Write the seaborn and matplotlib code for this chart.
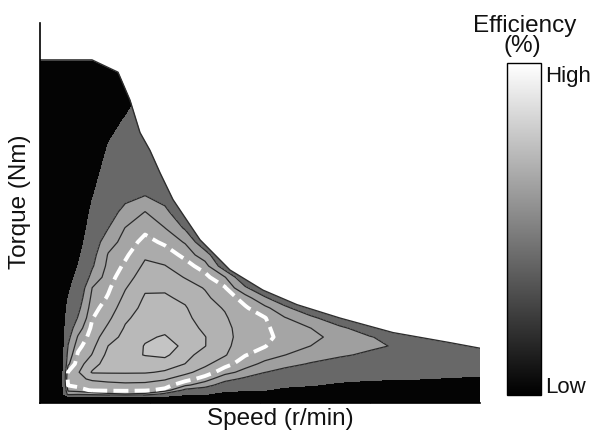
import numpy as np
import matplotlib
matplotlib.use("Agg")
import matplotlib.pyplot as plt
import seaborn as sns
from matplotlib.colors import Normalize
from matplotlib.cm import ScalarMappable

sns.set_theme(style="ticks")
plt.rcParams["font.family"] = ["Liberation Sans", "DejaVu Sans"]

# ---- data ----
speed = [0, 190, 255, 345, 475, 620, 775, 955, 1135, 1320, 1500,
         1680, 1865, 2045, 2225, 2455, 2725, 3000, 3275, 3635, 4000]
torque = [0, 4.5, 8, 11.5, 16, 21.5, 27.5, 35, 43, 51, 59, 67, 76, 85,
          94, 103, 112.5, 122.5, 132.5, 144, 156.5, 171, 186, 208.5,
          231, 253, 275.5, 307]

# efficiency (%) estimated at each speed (one list per speed, torque ascending)
efficiency_by_speed = [
    [60] * 28,
    [60] + [76] * 27,
    [60, 76, 86.5, 88.5, 90.1, 90.8, 90.1, 87.5, 86.3, 85.1, 84.1, 83.2, 82.1, 81.1,
     80.0, 79.2, 78.3, 77.3, 76.4, 75.9, 75.8, 75.7, 75.6, 75.4, 75.2, 75.0, 74.5, 74.0],
    [60, 76, 86, 89.1, 90.6, 91.6, 91.8, 91.1, 90.3, 89.4, 88.25, 86.8, 85.2, 84.1,
     83.1, 82.2, 81.1, 80.05, 79.1, 78.0, 77.0, 76.8, 76.6, 76.4, 76.2, 76.0, 75.5, 75.0],
    [60, 77, 86.5, 90.3, 91.2, 92.3, 94.2, 93.25, 92.1, 91.5, 91.0, 90.5, 89.9, 89.3,
     88.7, 88.05, 86.1, 84.65, 83.9, 83.0, 82.0, 80.8, 79.7, 78.2, 77.0, 76.7, 76.4, 76.0],
    [60, 77, 87.5, 90.4, 91.3, 92.7, 94.2, 94.85, 94.56, 94.02, 93.2, 92.35, 91.6, 90.9,
     90.2, 89.7, 89.2, 88.7, 88.2, 86.9, 84.94, 84.0, 83.0, 81.6, 80.1, 78.4, 76.9, 76.0],
    [60, 77, 88, 90.4, 91.47, 92.93, 94.18, 94.66, 95.2, 94.86, 94.53, 94.19, 93.7, 93.1,
     92.5, 91.86, 91.1, 90.35, 89.66, 88.9, 88.1, 85.67, 84.31, 83.0, 81.6, 80.3, 78.0, 76.0],
    [60, 77, 87.5, 90.3, 91.43, 92.78, 94.17, 95.0, 95.54, 95.56, 95.35, 95.1, 94.8, 94.5,
     94.2, 93.76, 93.1, 92.4, 91.68, 90.64, 89.45, 88.05, 84.9, 83.8, 82.6, 82.0, 81.0, 80.5],
    [60, 77, 84, 89.5, 90.89, 92.22, 93.8, 94.8, 95.8, 96.33, 95.6, 95.23, 94.9, 94.57,
     94.23, 93.77, 92.9, 92.1, 91.0, 89.65, 88.05, 85.71, 83.75, 82.5, 82.0, 82.0, 82.0, 82.0],
    [60, 76, 80.83, 84.2, 88.5, 90.86, 92.55, 93.98, 94.52, 95.05, 94.9, 94.66, 94.4, 94.15,
     93.67, 92.83, 91.9, 90.74, 89.5, 87.77, 84.6, 82.5, 82.5, 82.5, 82.5, 82.5, 82.5, 82.5],
    [60, 76, 80.3, 83.0, 86.5, 89.14, 91.1, 92.48, 93.33, 94.05, 94.05, 93.7, 93.26, 92.8,
     92.4, 91.88, 90.6, 89.14, 86.5, 82.4, 82.0, 82.0, 82.0, 82.0, 82.0, 82.0, 82.0, 82.0],
    [60, 75, 78.3, 80.9, 83.2, 86.2, 88.9, 90.75, 92.2, 92.7, 92.9, 92.6, 92.27, 91.84,
     91.04, 90.24, 88.2, 83.0, 81, 81, 81, 81, 81, 81, 81, 81, 81, 81],
    [60, 75, 77.9, 80.36, 82.1, 84.3, 87.14, 89.0, 90.1, 90.43, 90.75, 90.93, 90.6, 90.24,
     89.25, 85.5, 82.0, 81, 81, 81, 81, 81, 81, 81, 81, 81, 81, 81],
    [60, 75, 77.5, 80.05, 81.39, 82.5, 85.05, 87.4, 89.08, 90.09, 90.35, 90.38, 90.09, 88.73,
     85.43, 82.0, 81, 81, 81, 81, 81, 81, 81, 81, 81, 81, 81, 81],
    [60, 75, 77, 79, 80.75, 82.25, 84.0, 85.92, 88.05, 88.76, 89.55, 88.96, 88.2, 85.82,
     82.3, 81, 81, 81, 81, 81, 81, 81, 81, 81, 81, 81, 81, 81],
    [60, 75, 76.7, 78.3, 80.2, 81.5, 83.0, 84.8, 86.41, 88.02, 88.7, 88.07, 85.92, 82.3,
     81, 81, 81, 81, 81, 81, 81, 81, 81, 81, 81, 81, 81, 81],
    [60, 75, 76.3, 77.7, 79.3, 80.8, 82.2, 83.8, 85.38, 86.73, 87.14, 85.7, 82.5, 81,
     81, 81, 81, 81, 81, 81, 81, 81, 81, 81, 81, 81, 81, 81],
    [60, 75, 76.2, 77.35, 78.8, 80.34, 81.55, 82.9, 84.5, 85.5, 85.2, 83.06, 81, 81,
     81, 81, 81, 81, 81, 81, 81, 81, 81, 81, 81, 81, 81, 81],
    [60, 75, 76.1, 77.2, 78.6, 80.14, 81.1, 82.6, 83.4, 84.66, 83.5, 82.0, 81, 81,
     81, 81, 81, 81, 81, 81, 81, 81, 81, 81, 81, 81, 81, 81],
    [60, 75, 76.15, 77.05, 78.33, 79.87, 80.8, 81.78, 82.9, 83.3, 82.0, 81, 81, 81,
     81, 81, 81, 81, 81, 81, 81, 81, 81, 81, 81, 81, 81, 81],
    [60, 75, 75.95, 76.9, 78.1, 79.5, 80.7, 81.8, 83.0, 82.4, 81, 81, 81, 81,
     81, 81, 81, 81, 81, 81, 81, 81, 81, 81, 81, 81, 81, 81],
]

# maximum torque envelope
envelope_speed = [0, 473, 709, 818, 909, 1000, 1091, 1209, 1318, 1455, 1727,
                  2027, 2336, 2727, 3209, 3727, 4000]
envelope_torque = [307, 307, 296, 271, 242, 226, 206, 182, 166, 146, 119,
                   101, 88, 76, 63, 54, 49]

band_levels = [40, 80, 85, 88, 90, 92, 94, 95.5, 100]
band_colors = ["#040404", "#686868", "#9f9f9f", "#a5a5a5", "#ababab",
               "#b2b2b2", "#b9b9b9", "#c4c4c4"]
line_levels = [85, 88, 92, 94, 95.5]
highlight_level = [90]

# ---- figure ----
fig = plt.figure(figsize=(5.92, 4.32), dpi=100)
ax = fig.add_axes([40 / 592, 1 - 403 / 432, 440 / 592, 380 / 432])

Z = np.array(efficiency_by_speed, dtype=float).T
ax.contourf(speed, torque, Z, levels=band_levels, colors=band_colors, zorder=1)
ax.contour(speed, torque, Z, levels=line_levels, colors="#2a2a2a",
           linewidths=0.9, zorder=2)
cs = ax.contour(speed, torque, Z, levels=highlight_level, colors="white",
                linewidths=2.8, linestyles="dashed", zorder=2.5)
cs.set_linestyle([(0, (3.85, 1.6))])

ax.fill_between(envelope_speed, envelope_torque, 340, color="white",
                linewidth=0, zorder=3)
ax.plot(envelope_speed, envelope_torque, color="#2e2e2e", lw=1.0, zorder=3.5)

ax.set_xlim(0, 4000)
ax.set_ylim(0, 340)
ax.set_xticks([1000, 2000, 3000])
ax.set_yticks([50, 100, 150, 200, 250, 300])
ax.set_xticklabels([])
ax.set_yticklabels([])
ax.tick_params(direction="in", length=3, width=0.8, color="#808080")
sns.despine(ax=ax)
for side in ("left", "bottom"):
    ax.spines[side].set_color("black")
    ax.spines[side].set_linewidth(1.2)
    ax.spines[side].set_zorder(6)
ax.set_xlabel("")
ax.set_ylabel("")

fig.text(280 / 592, 1 - 425 / 432, "Speed (r/min)", ha="center", va="baseline",
         fontsize=17.5, color="#111111")
fig.text(20 / 592, 1 - 202 / 432, "Torque (Nm)", ha="center", va="center",
         rotation=90, fontsize=17.5, color="#111111")

# ---- colour bar ----
cax = fig.add_axes([507 / 592, 1 - 395 / 432, 34 / 592, 332 / 432])
cb = fig.colorbar(ScalarMappable(norm=Normalize(0, 1), cmap="gray"), cax=cax)
cb.set_ticks([])
cb.outline.set_edgecolor("black")
cb.outline.set_linewidth(1.0)

fig.text(525 / 592, 1 - 32 / 432, "Efficiency", ha="center", va="baseline",
         fontsize=17.5, color="#111111")
fig.text(522 / 592, 1 - 52 / 432, "(%)", ha="center", va="baseline",
         fontsize=17.5, color="#111111")
fig.text(545 / 592, 1 - 82 / 432, "High", ha="left", va="baseline",
         fontsize=16, color="#111111")
fig.text(545 / 592, 1 - 393 / 432, "Low", ha="left", va="baseline",
         fontsize=16, color="#111111")

fig.savefig("out.png", dpi=100)
